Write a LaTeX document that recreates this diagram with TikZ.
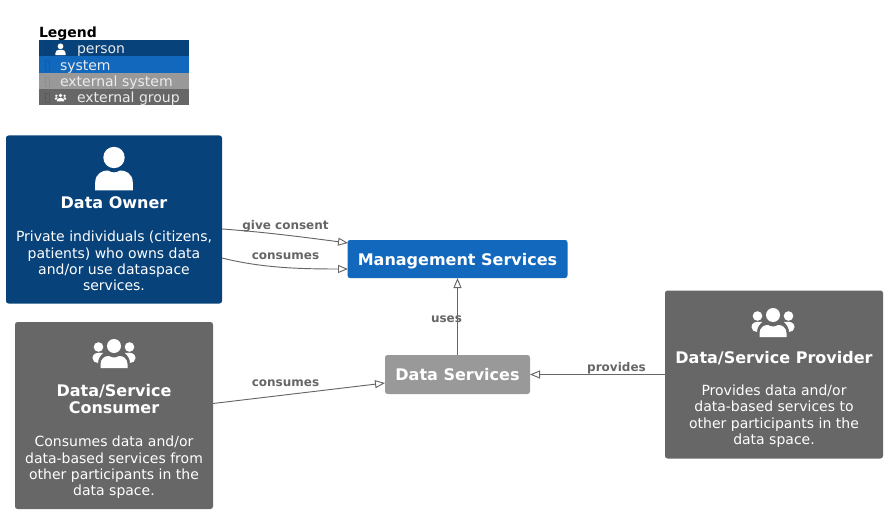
\documentclass[tikz,border=0pt]{standalone}
\usepackage{fontspec}
\setmainfont{DejaVu Sans}
\usetikzlibrary{arrows.meta}
\definecolor{personblue}{HTML}{08427B}
\definecolor{systemblue}{HTML}{1168BD}
\definecolor{externalgray}{HTML}{999999}
\definecolor{groupgray}{HTML}{676767}
\definecolor{linkgray}{HTML}{666666}

\begin{document}
\begin{tikzpicture}[
  x=0.75pt,
  y=-0.75pt,
  every node/.style={inner sep=0pt, outer sep=0pt},
  box/.style={rectangle, rounded corners=1.9pt, minimum width=#1},
  title/.style={font=\fontsize{12}{13.4}\bfseries\selectfont, text=white, align=center},
  descr/.style={font=\fontsize{10.5}{12.25}\selectfont, text=white, align=center},
  rel/.style={linkgray, line width=0.7pt, -{Triangle[open, length=7.5pt, width=6pt, fill=white]}},
  rellabel/.style={font=\fontsize{9}{10}\bfseries\selectfont, text=linkgray},
  legendrow/.style={rectangle, minimum width=112.5pt, minimum height=12.3pt},
  legendtext/.style={font=\fontsize{10.5}{12}\selectfont, text=white!92!black, anchor=west},
  tofu/.style={line width=0.3pt, draw opacity=0.45},
  personicon/.pic={
    \fill[white] (0,-8) circle (10.7);
    \fill[white] (-18.8,25) -- (-18.8,17) .. controls (-18.8,8) and (-11,4.5) .. (-6,5)
      .. controls (-2,7.5) and (2,7.5) .. (6,5)
      .. controls (11,4.5) and (18.8,8) .. (18.8,17) -- (18.8,25) -- cycle;
  },
  groupicon/.pic={
    \fill[white] (0,-11) circle (7);
    \fill[white] (-15.5,-10) circle (4.8);
    \fill[white] (15.5,-10) circle (4.8);
    \fill[white] (-13.5,11) -- (-13.5,7) .. controls (-13.5,2) and (-9,-1.5) .. (-5,-1)
      .. controls (-2,1) and (2,1) .. (5,-1)
      .. controls (9,-1.5) and (13.5,2) .. (13.5,7) -- (13.5,11) -- cycle;
    \fill[white] (-21.5,1) .. controls (-21.5,-3.5) and (-17,-5) .. (-11,-4)
      .. controls (-14,-1) and (-16,2) .. (-16,6) .. controls (-19,6) and (-21.5,4) .. (-21.5,1) -- cycle;
    \fill[white] (21.5,1) .. controls (21.5,-3.5) and (17,-5) .. (11,-4)
      .. controls (14,-1) and (16,2) .. (16,6) .. controls (19,6) and (21.5,4) .. (21.5,1) -- cycle;
  }
]
  \useasboundingbox (0,0) rectangle (887,513);

  % ---- legend -----------------------------------------------------------
  \node[font=\fontsize{10.5}{12}\bfseries\selectfont, anchor=west] (legendtitle) at (39,33.5) {Legend};
  \node[legendrow, fill=personblue] (rowperson) at (114,48) {};
  \node[legendrow, fill=systemblue] (rowsystem) at (114,64.5) {};
  \node[legendrow, fill=externalgray] (rowexternal) at (114,81) {};
  \node[legendrow, fill=groupgray] (rowgroup) at (114,97) {};
  \draw[tofu, personblue!85!black] (45,44) rectangle (49,53);
  \draw[tofu, systemblue!75!black] (45,60.5) rectangle (49,70);
  \draw[tofu, externalgray!85!black] (45,77) rectangle (49,86);
  \draw[tofu, groupgray!75!black] (45,93) rectangle (49,102);
  \pic[scale=0.27] at (60.5,48.5) {personicon};
  \pic[scale=0.27] at (60.5,98.5) {groupicon};
  \node[legendtext] (textperson) at (77,51) {person};
  \node[legendtext] (textsystem) at (60,67) {system};
  \node[legendtext] (textexternal) at (60,83) {external system};
  \node[legendtext] (textgroup) at (77,99) {external group};

  % ---- people and groups ------------------------------------------------
  \node[box=162pt, minimum height=126pt, fill=personblue] (owner) at (114,219.5) {};
  \pic at (114,165.5) {personicon};
  \node[title] (ownertitle) at (114,203) {Data Owner};
  \node[descr] (ownerdescr) at (114,261) {Private individuals (citizens,\\patients) who owns data\\and/or use dataspace\\services.};

  \node[box=148.5pt, minimum height=140.25pt, fill=groupgray] (consumer) at (114,415.5) {};
  \pic at (114,357) {groupicon};
  \node[title] (consumertitle) at (114,399) {Data/Service\\Consumer};
  \node[descr] (consumerdescr) at (114,467.5) {Consumes data and/or\\data-based services from\\other participants in the\\data space.};

  \node[box=163.5pt, minimum height=126pt, fill=groupgray] (provider) at (774,374.5) {};
  \pic at (773,326) {groupicon};
  \node[title] (providertitle) at (774,358) {Data/Service Provider};
  \node[descr] (providerdescr) at (774,416) {Provides data and/or\\data-based services to\\other participants in the\\data space.};

  % ---- the two systems --------------------------------------------------
  \node[box=165pt, minimum height=28.5pt, fill=systemblue, title, text depth=0pt] (management) at (457.5,259) {Management Services};
  \node[box=108.75pt, minimum height=29.25pt, fill=externalgray, title] (dataservices) at (457.5,374.5) {Data Services};

  % ---- free ends of the relations ---------------------------------------
  \coordinate (ownerconsent) at (222,229);
  \coordinate (ownerconsumes) at (222,258);
  \coordinate (mgmtconsent) at (348,243);
  \coordinate (mgmtconsumes) at (348,269);
  \coordinate (consumerout) at (213,403.5);
  \coordinate (dataconsumes) at (385,383);

  % ---- relations --------------------------------------------------------
  \draw[rel] (ownerconsent) .. controls (265,232) and (310,238) .. (mgmtconsent);
  \draw[rel] (ownerconsumes) .. controls (262,268) and (300,269) .. (mgmtconsumes);
  \draw[rel] (consumerout) -- (dataconsumes);
  \draw[rel] (dataservices.north) -- (management.south);
  \draw[rel] (provider.west) -- (dataservices.east);

  \node[rellabel] (consentlabel) at (285.5,226) {give consent};
  \node[rellabel] (consumeslabel) at (285.5,256) {consumes};
  \node[rellabel] (dataconsumeslabel) at (285.5,383) {consumes};
  \node[rellabel] (useslabel) at (446.5,319) {uses};
  \node[rellabel] (provideslabel) at (616.5,368) {provides};
\end{tikzpicture}
\end{document}
